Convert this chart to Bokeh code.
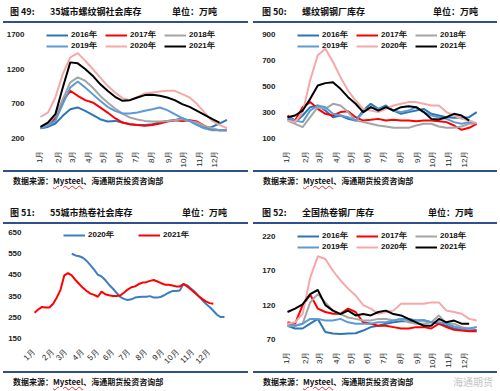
from bokeh.plotting import figure
from bokeh.models import Range1d, FixedTicker, Legend, LegendItem, Div, Spacer
from bokeh.layouts import column, row
from bokeh.embed import file_html
from bokeh.resources import INLINE
from math import pi

# ---------------- data ----------------
month_ticks = [0.8, 5.8, 9.5, 13.9, 17.9, 22.1, 26.4, 30.9, 35.4, 39.4, 43.6, 47.8]
month_labels = ["1月", "2月", "3月", "4月", "5月", "6月", "7月", "8月", "9月", "10月", "11月", "12月"]
years = ["2016年", "2017年", "2018年", "2019年", "2020年", "2021年"]

weeks = [1, 3, 5, 7, 9, 11, 13, 15, 17, 19, 21, 23, 25, 27, 29, 31, 33, 35, 37, 39, 41, 43, 45, 47, 49, 51]

# Fig 49: 35-city rebar social inventory (10k t)
rebar_social_2016 = [348, 367, 416, 527, 623, 648, 599, 541, 478, 445, 454, 430, 406, 396, 396, 406, 430, 454, 464, 493, 454, 396, 348, 367, 416, 470]
rebar_social_2017 = [350, 382, 493, 744, 888, 816, 753, 720, 648, 574, 493, 430, 406, 396, 382, 396, 416, 445, 464, 454, 464, 445, 382, 333, 319, 319]
rebar_social_2018 = [348, 406, 527, 768, 1009, 1081, 1033, 936, 816, 720, 633, 560, 502, 474, 454, 445, 445, 454, 464, 478, 454, 430, 382, 348, 319, 319]
rebar_social_2019 = [348, 382, 454, 696, 936, 1023, 936, 840, 744, 657, 599, 560, 560, 574, 599, 623, 648, 609, 551, 493, 454, 396, 348, 319, 319, 319]
rebar_social_2020 = [510, 574, 791, 1130, 1371, 1431, 1323, 1202, 1081, 960, 864, 782, 753, 801, 850, 864, 878, 888, 888, 840, 792, 696, 574, 454, 396, 348]
rebar_social_2021 = [367, 429, 551, 936, 1298, 1284, 1202, 1106, 985, 888, 801, 744, 753, 792, 826, 830, 816, 792, 753, 696, 657, 599, 541, 483, 430]

# Fig 50: rebar mill inventory
rebar_mill_2016 = [251, 226, 277, 341, 354, 315, 264, 277, 251, 238, 315, 367, 328, 354, 315, 290, 303, 315, 328, 290, 277, 264, 259, 259, 264, 303]
rebar_mill_2017 = [277, 238, 341, 380, 328, 290, 277, 303, 310, 264, 238, 244, 251, 238, 244, 238, 238, 233, 238, 238, 233, 226, 200, 167, 182, 213]
rebar_mill_2018 = [238, 213, 187, 264, 341, 328, 367, 354, 303, 238, 226, 213, 200, 192, 182, 182, 182, 200, 213, 213, 192, 182, 182, 192, 213, 218]
rebar_mill_2019 = [264, 238, 226, 315, 354, 341, 290, 277, 264, 238, 300, 340, 328, 341, 315, 303, 315, 341, 303, 277, 264, 251, 226, 213, 226, 218]
rebar_mill_2020 = [238, 226, 303, 550, 740, 790, 690, 572, 469, 392, 328, 315, 303, 328, 354, 367, 380, 380, 367, 354, 354, 303, 277, 251, 238, 218]
rebar_mill_2021 = [264, 277, 315, 405, 508, 526, 533, 482, 418, 367, 303, 341, 315, 341, 315, 341, 349, 341, 303, 251, 246, 264, 290, 277, 238]

# Fig 51: 55-city hot-rolled coil social inventory
hrc_weeks_2020 = list(range(11, 53))
hrc_social_2020 = [550, 542, 538, 531, 516, 496, 475, 451, 443, 426, 404, 386, 366, 347, 337, 332, 335, 343, 346, 347, 347,
                   350, 343, 343, 347, 356, 366, 374, 374, 377, 408, 400, 386, 371, 351, 332, 314, 299, 281, 262, 251, 251]
hrc_weeks_2021 = list(range(1, 50))
hrc_social_2021 = [272, 287, 299, 296, 296, 314, 344, 381, 448, 459, 448, 426, 407, 389, 374, 362, 356, 347, 371, 359, 354,
                   351, 351, 353, 366, 381, 392, 396, 407, 414, 416, 422, 426, 419, 411, 404, 404, 400, 396, 396, 407, 396,
                   381, 366, 351, 337, 325, 317, 314]
hrc_years = ["2020年", "2021年"]

# Fig 52: national HRC mill inventory
hrc_mill_2016 = [90, 86, 86, 93, 100, 81, 78.6, 78, 78.6, 79, 83, 88, 90, 93, 95, 96.5, 96.5, 97.5, 98, 95, 93, 90, 86, 84, 83, 84]
hrc_mill_2017 = [95, 93, 120, 135, 115, 110, 107.5, 107.5, 115, 110, 95, 93, 90, 90, 88, 86, 86, 88, 88, 86, 93, 88, 84, 83, 82, 82]
hrc_mill_2018 = [90, 90, 93, 124, 136, 124, 112, 107, 102, 100, 97.5, 97.5, 100, 100, 97.5, 100, 95, 93, 93, 95, 105, 93, 93, 88, 86, 88]
hrc_mill_2019 = [93, 90, 93, 100, 100, 97.5, 97.5, 100, 95, 93, 93, 93, 95, 95, 97.5, 100, 100, 98, 97.5, 95, 95, 93, 89, 86, 86, 88]
hrc_mill_2020 = [93, 95, 107.5, 160, 191, 187, 170, 156, 144, 134, 120, 115, 107.5, 110, 112, 122, 122, 122, 122, 124, 124, 112, 110, 107.5, 100, 97.5]
hrc_mill_2021 = [110, 115, 121, 136, 142, 120, 112, 107, 112, 105, 107, 105, 110, 112, 107, 105, 100, 95, 90, 90, 100, 95, 97.5, 93, 93]

# ---------------- styling ----------------
colors6 = ["#2E75B6", "#FF0000", "#A5A5A5", "#5B9BD5", "#F6A8A8", "#000000"]
colors2 = ["#3C7DC4", "#FF0000"]
NAVY = "#2F4F8F"
NUM_FONT = "Liberation Sans"
CJK_FONT = "Noto Sans CJK SC"


def header(no, title, w, left_pad, unit_right):
    html = (f'<div style="width:{w}px;height:23px;box-sizing:border-box;border-bottom:2px solid {NAVY};'
            f'display:flex;align-items:flex-end;padding-bottom:3px;font-family:\'{CJK_FONT}\';font-weight:bold;'
            f'font-size:9px;line-height:12px;color:#111;white-space:nowrap;">'
            f'<span style="margin-left:{left_pad}px;width:40px;">图 {no}:</span><span>{title}</span>'
            f'<span style="margin-left:auto;margin-right:{unit_right}px;">单位：万吨</span></div>')
    return Div(text=html, width=w, height=23, margin=0)


def footer(w, mark=False):
    extra = ('<span style="margin-left:auto;margin-right:4px;font-size:10px;line-height:11px;'
             'font-weight:normal;color:#c4c4c4;">海通期货</span>') if mark else ''
    html = (f'<div style="width:{w}px;height:17px;box-sizing:border-box;border-top:2px solid {NAVY};'
            f'display:flex;align-items:center;font-family:\'{CJK_FONT}\';font-weight:bold;font-size:8px;'
            f'line-height:11px;color:#111;white-space:nowrap;padding-left:10px;padding-top:2px;">'
            f'数据来源：<span style="text-decoration:underline wavy #e03030;">Mysteel</span>、海通期货投资咨询部'
            f'{extra}</div>')
    return Div(text=html, width=w, height=17, margin=0)


def make_fig(w, xr, yr, yticks, mb_left, mb_top, mb_bottom, angle):
    p = figure(width=w, height=147, x_range=Range1d(*xr), y_range=Range1d(*yr),
               output_backend="svg", toolbar_location=None,
               min_border_left=mb_left, min_border_right=8, min_border_top=mb_top, min_border_bottom=mb_bottom)
    p.outline_line_color = None
    p.grid.visible = False
    p.xaxis.ticker = FixedTicker(ticks=month_ticks)
    p.xaxis.major_label_overrides = {t: l for t, l in zip(month_ticks, month_labels)}
    p.xaxis.major_label_orientation = angle
    p.yaxis.ticker = FixedTicker(ticks=yticks)
    for ax in (p.xaxis[0], p.yaxis[0]):
        ax.axis_line_color = None
        ax.major_tick_line_color = None
        ax.minor_tick_line_color = None
        ax.major_label_text_font = NUM_FONT
        ax.major_label_text_font_size = "8px"
        ax.major_label_text_color = "#222"
    p.yaxis.major_label_text_font_style = "bold"
    p.yaxis.major_label_standoff = 4
    p.xaxis.major_label_standoff = 6
    return p


def add_legend(p, items, loc, ncols, label_width):
    lg = Legend(items=items, location=loc, orientation="horizontal", ncols=ncols,
                glyph_width=22, glyph_height=10, label_standoff=3, label_width=label_width,
                label_height=10, spacing=0, padding=0, margin=0,
                border_line_color=None, background_fill_alpha=0,
                label_text_font=NUM_FONT, label_text_font_style="bold", label_text_font_size="8px",
                label_text_color="#111")
    p.add_layout(lg)


def six_year_panel(w, series, xr, yr, yticks, mb_left, mb_top, mb_bottom, legend_loc):
    p = make_fig(w, xr, yr, yticks, mb_left, mb_top, mb_bottom, pi / 2)
    items = []
    for s, c, lab in zip(series, colors6, years):
        r = p.line(weeks[:len(s)], s, line_color=c, line_width=2)
        items.append(LegendItem(label=lab, renderers=[r]))
    add_legend(p, items, legend_loc, 3, 34)
    return p


WL, WR = 245, 244

# frame tops sit a few pixels above the top tick so the legend stays inside the frame
p1 = six_year_panel(WL, [rebar_social_2016, rebar_social_2017, rebar_social_2018,
                         rebar_social_2019, rebar_social_2020, rebar_social_2021],
                    (-0.59, 54.64), (200, 1801), [200, 700, 1200, 1700], 28, 4, 32, (12, 87))
p2 = six_year_panel(WR, [rebar_mill_2016, rebar_mill_2017, rebar_mill_2018,
                         rebar_mill_2019, rebar_mill_2020, rebar_mill_2021],
                    (0.47, 54.38), (100, 954), [100, 300, 500, 700, 900], 32, 4, 32, (12, 87))

p3 = make_fig(WL, (0.19, 56.3), (150, 655), [150, 250, 350, 450, 550, 650], 28, 7, 30, pi / 4)
r20 = p3.line(hrc_weeks_2020, hrc_social_2020, line_color=colors2[0], line_width=2)
r21 = p3.line(hrc_weeks_2021, hrc_social_2021, line_color=colors2[1], line_width=2)
add_legend(p3, [LegendItem(label=hrc_years[0], renderers=[r20]),
                LegendItem(label=hrc_years[1], renderers=[r21])], (32, 98), 2, 50)

p4 = six_year_panel(WR, [hrc_mill_2016, hrc_mill_2017, hrc_mill_2018,
                         hrc_mill_2019, hrc_mill_2020, hrc_mill_2021],
                    (0.47, 54.38), (70, 230), [70, 120, 170, 220], 32, 5, 31, (12, 87))

col1 = column(header(49, "35城市螺纹钢社会库存", WL, 7, 31), p1, footer(WL), spacing=0)
col2 = column(header(50, "螺纹钢钢厂库存", WR, 9, 19), p2, footer(WR), spacing=0)
col3 = column(header(51, "55城市热卷社会库存", WL, 7, 21), p3, footer(WL), spacing=0)
col4 = column(header(52, "全国热卷钢厂库存", WR, 9, 24), p4, footer(WR, mark=True), spacing=0)

layout = column(row(Spacer(width=3, height=10), col1, Spacer(width=5, height=10), col2, spacing=0),
                Spacer(width=10, height=14),
                row(Spacer(width=3, height=10), col3, Spacer(width=5, height=10), col4, spacing=0),
                spacing=0)

open("out.html", "w").write(file_html(layout, INLINE))
